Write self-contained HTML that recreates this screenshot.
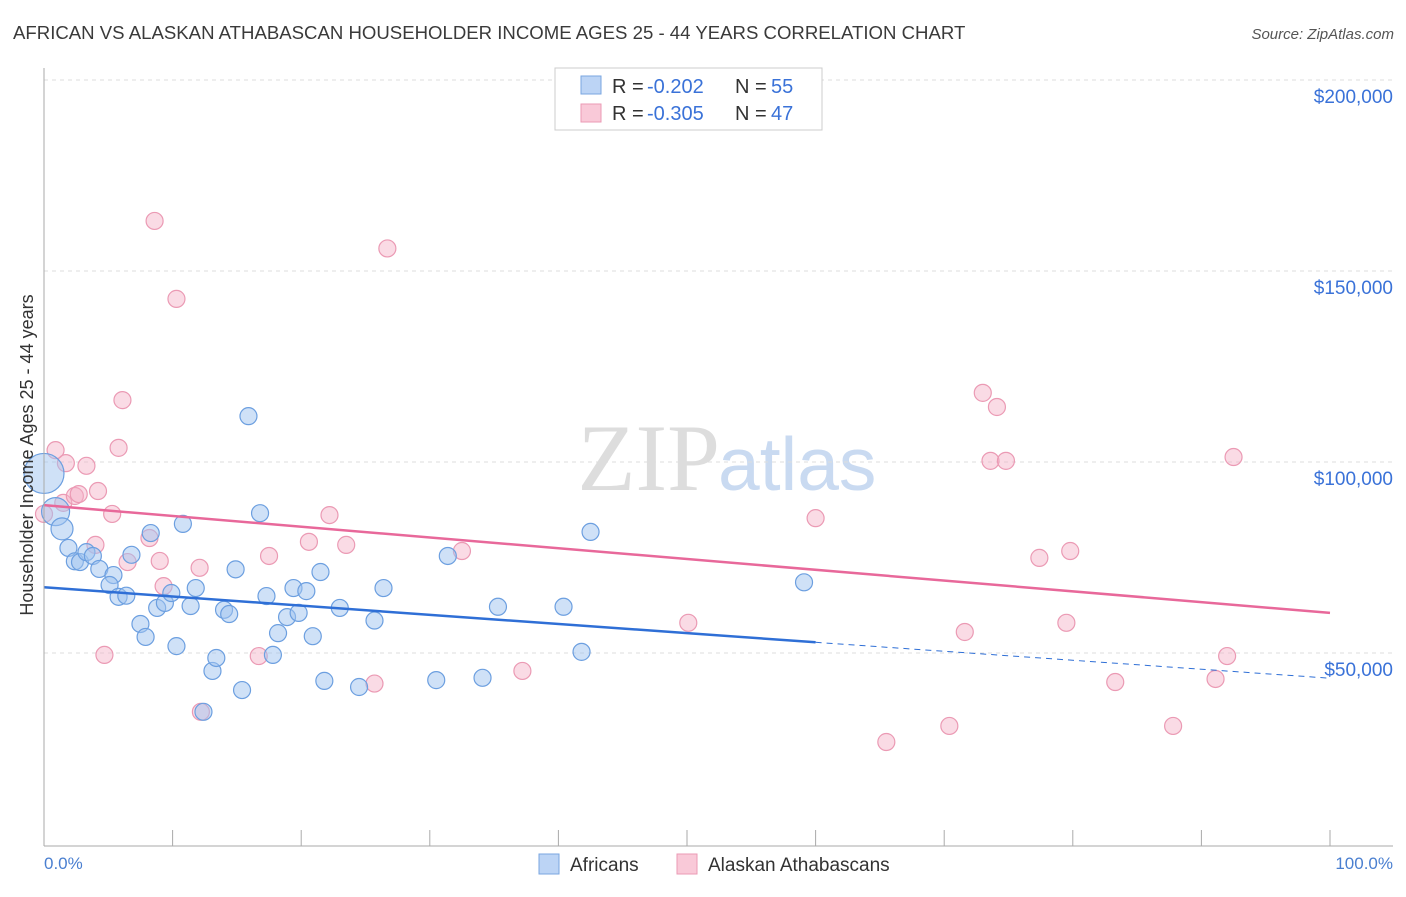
<!DOCTYPE html><html><head><meta charset="utf-8"><style>
body{margin:0;background:#fff;font-family:"Liberation Sans",sans-serif}
</style></head><body>
<svg id="c" width="1406" height="892" xmlns="http://www.w3.org/2000/svg" style="font-family:'Liberation Sans',sans-serif">
<text x="13" y="39" font-size="18.6" fill="#3a3a3a">AFRICAN VS ALASKAN ATHABASCAN HOUSEHOLDER INCOME AGES 25 - 44 YEARS CORRELATION CHART</text>
<text x="1394" y="39" font-size="15" fill="#555" text-anchor="end" font-style="italic">Source: ZipAtlas.com</text>
<text x="720" y="490" font-size="95" fill="#ddd" text-anchor="end" font-family="Liberation Serif">ZIP</text>
<text x="718" y="490" font-size="75" fill="#c9daf1">atlas</text>
<g id="grid"></g><g id="pts"></g><g id="lines"></g>
<line x1="44" y1="68" x2="44" y2="846" stroke="#aaa"/>
<line x1="44" y1="846" x2="1393" y2="846" stroke="#aaa"/>
<text x="33" y="455" font-size="18" fill="#333" text-anchor="middle" transform="rotate(-90 33 455)">Householder Income Ages 25 - 44 years</text>
<text x="44" y="869" font-size="17" fill="#4a7fd0">0.0%</text>
<text x="1393" y="869" font-size="17" fill="#4a7fd0" text-anchor="end">100.0%</text>
<g font-size="20">
<rect x="555" y="68" width="267" height="62" fill="#fff" stroke="#ccc"/>
<rect x="581" y="76" width="20" height="18" fill="#bcd4f5" stroke="#7aa6e0"/>
<rect x="581" y="104" width="20" height="18" fill="#f9c9d8" stroke="#eb9ab4"/>
<text x="612" y="93" fill="#333">R =</text><text x="647" y="93" fill="#3a72d8">-0.202</text>
<text x="735" y="93" fill="#333">N =</text><text x="771" y="93" fill="#3a72d8">55</text>
<text x="612" y="120" fill="#333">R =</text><text x="647" y="120" fill="#3a72d8">-0.305</text>
<text x="735" y="120" fill="#333">N =</text><text x="771" y="120" fill="#3a72d8">47</text>
</g>
<g>
<rect x="539" y="854" width="20" height="20" fill="#bcd4f5" stroke="#7aa6e0"/>
<text x="570" y="871" font-size="19" fill="#333">Africans</text>
<rect x="677" y="854" width="20" height="20" fill="#f9c9d8" stroke="#eb9ab4"/>
<text x="708" y="871" font-size="19" fill="#333">Alaskan Athabascans</text>
</g>
</svg>
<script>
const yTicks=[50000,100000,150000,200000];
const yTickLabels=["$50,000","$100,000","$150,000","$200,000"];
const bluePts=[[0,97],[0.9,87],[1.4,82.5],[1.9,77.5],[2.4,74],[2.8,73.8],[3.3,76.4],[3.8,75.4],[4.3,72],[5.4,70.4],[5.1,67.8],[5.8,64.7],[6.4,65],[6.8,75.7],[7.5,57.6],[7.9,54.2],[8.3,81.4],[8.8,61.8],[9.4,63.1],[9.9,65.7],[10.8,83.8],[11.4,62.3],[11.8,67],[10.3,51.8],[13.1,45.3],[13.4,48.7],[14,61.3],[14.4,60.2],[14.9,71.9],[15.4,40.3],[15.9,112],[16.8,86.6],[17.3,64.9],[17.8,49.5],[18.2,55.2],[18.9,59.4],[19.4,67],[19.8,60.5],[20.4,66.2],[20.9,54.4],[21.5,71.2],[21.8,42.7],[23,61.8],[24.5,41.1],[25.7,58.5],[26.4,67],[30.5,42.9],[31.4,75.4],[34.1,43.5],[35.3,62.1],[40.4,62.1],[41.8,50.3],[42.5,81.7],[59.1,68.5],[12.4,34.6]];
const pinkPts=[[0,86.4],[0.9,103.1],[1.7,99.7],[1.5,89.3],[2.4,91.1],[2.7,91.6],[3.3,99],[4,78.3],[4.2,92.4],[4.7,49.5],[5.3,86.4],[5.8,103.7],[6.1,116.2],[6.5,73.8],[8.2,80.1],[8.6,163.1],[9,74.1],[9.3,67.5],[10.3,142.7],[12.1,72.3],[12.2,34.6],[16.7,49.2],[17.5,75.4],[20.6,79.1],[22.2,86.1],[23.5,78.3],[25.7,42],[26.7,155.9],[32.5,76.7],[37.2,45.3],[50.1,57.9],[60,85.3],[65.5,26.7],[70.4,30.9],[71.6,55.5],[73,118.1],[73.6,100.3],[74.1,114.4],[74.8,100.3],[77.4,74.9],[79.5,57.9],[79.8,76.7],[83.3,42.4],[87.8,30.9],[91.1,43.2],[92,49.2],[92.5,101.3]];
const blueLine=[67.2,52.8,43.4];
const pinkLine=[88.7,60.5];
const NS="http://www.w3.org/2000/svg";
const X=p=>44+p*12.86, Y=v=>653-(v-50)*3.82;
function mk(t,a,parent){const e=document.createElementNS(NS,t);for(const k in a)e.setAttribute(k,a[k]);document.getElementById(parent).appendChild(e);return e;}
yTicks.forEach((t,i)=>{
 const y=Y(t/1000);
 const l=mk('line',{x1:44,x2:1393,y1:y,y2:y,stroke:'#ddd','stroke-dasharray':'4,4'},'grid');
 
 
 const tx=mk('text',{x:1393,y:y+23,'font-size':19,fill:'#3a72d8','text-anchor':'end'},'grid');
 tx.textContent=yTickLabels[i];
 
 
});
for(let i=1;i<=10;i++){const x=X(i*10);const l=mk('line',{x1:x,x2:x,y1:830,y2:846,stroke:'#aaa'},'grid');
 
 }
pinkPts.forEach(p=>{const c=mk('circle',{cx:X(p[0]),cy:Y(p[1]),r:8.5,fill:'rgba(245,175,198,0.45)',stroke:'#eb9ab4','stroke-width':1.2},'pts');
 
 });
bluePts.forEach((p,i)=>{const r=i==0?20:i==1?14:i==2?11:8.5;const c=mk('circle',{cx:X(p[0]),cy:Y(p[1]),r:r,fill:'rgba(160,195,240,0.5)',stroke:'#6c9fe0','stroke-width':1.2},'pts');
 
 });
let l1=mk('line',{x1:X(0),y1:Y(blueLine[0]),x2:X(60),y2:Y(blueLine[1]),stroke:'#2f6fd6','stroke-width':2.5},'lines');


let l2=mk('line',{x1:X(60),y1:Y(blueLine[1]),x2:X(100),y2:Y(blueLine[2]),stroke:'#2f6fd6','stroke-width':1,'stroke-dasharray':'6,5'},'lines');


let l3=mk('line',{x1:X(0),y1:Y(pinkLine[0]),x2:X(100),y2:Y(pinkLine[1]),stroke:'#e8689a','stroke-width':2.5},'lines');


</script></body></html>
